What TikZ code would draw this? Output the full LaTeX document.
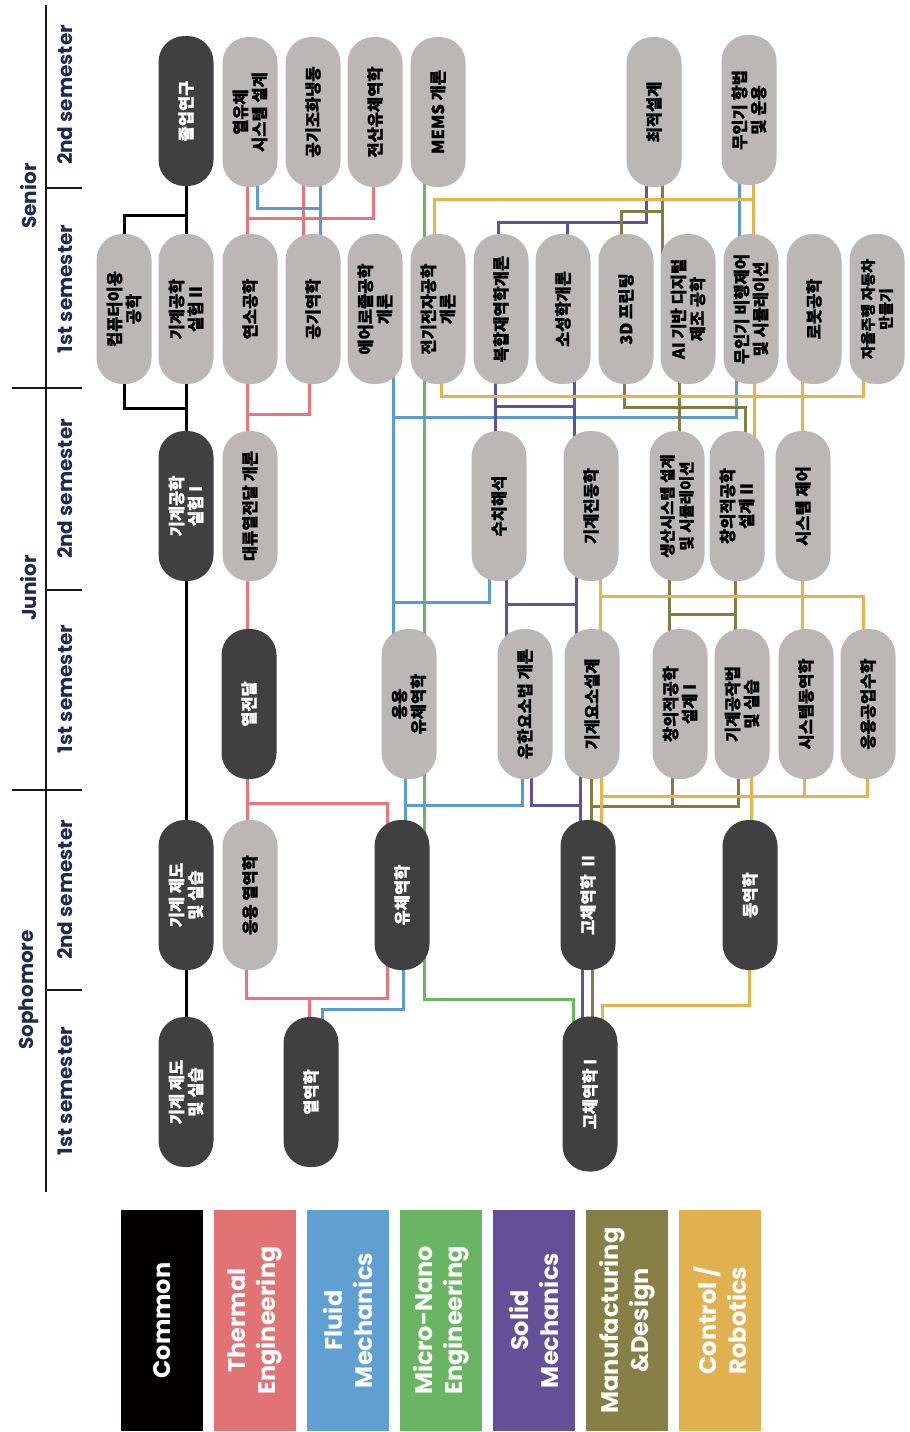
\documentclass[tikz,border=0pt]{standalone}
\usepackage{fontspec}
\newfontfamily\kr{Noto Sans CJK KR}[BoldFeatures={FakeBold=1.2}]
\newfontfamily\pop{Poppins}
\usetikzlibrary{calc,backgrounds}
\definecolor{dkbox}{HTML}{404042}
\definecolor{ltbox}{HTML}{BCB7B5}
\definecolor{cpk}{HTML}{E5767B}
\definecolor{cbl}{HTML}{5B9BD1}
\definecolor{cgn}{HTML}{6BB663}
\definecolor{cpp}{HTML}{61509A}
\definecolor{col}{HTML}{817D44}
\definecolor{cyl}{HTML}{E5B450}
\definecolor{navy}{HTML}{1E2B50}
\definecolor{lgcom}{HTML}{050000}
\definecolor{lgth}{HTML}{E17375}
\definecolor{lgfl}{HTML}{5F9FD1}
\definecolor{lgmn}{HTML}{6AB563}
\definecolor{lgso}{HTML}{654F97}
\definecolor{lgma}{HTML}{878046}
\definecolor{lgco}{HTML}{E2B14F}
\tikzset{
  crs/.style={rectangle, rounded corners=26pt, minimum width=150pt, minimum height=55pt, inner sep=2pt, rotate=90, align=center, font=\kr\bfseries\fontsize{16.5}{19}\selectfont},
  dk/.style={crs, fill=dkbox, text=white},
  lt/.style={crs, fill=ltbox, text=black},
  cn/.style={line width=3pt},
  lbk/.style={cn, draw=black},
  lpk/.style={cn, draw=cpk},
  lbl/.style={cn, draw=cbl},
  lgn/.style={cn, draw=cgn},
  lpp/.style={cn, draw=cpp},
  lol/.style={cn, draw=col},
  lyl/.style={cn, draw=cyl},
  legbox/.style={rectangle, rotate=90, minimum width=221pt, minimum height=82pt, inner sep=0pt, align=center, text=white, font=\pop\bfseries\fontsize{24}{30}\selectfont},
  yearlab/.style={rotate=90, text=navy, font=\pop\bfseries\fontsize{20}{24}\selectfont},
  semlab/.style={rotate=90, text=navy, font=\pop\bfseries\fontsize{20}{24}\selectfont},
  axisln/.style={line width=2pt, draw=black!90}
}
\begin{document}
\begin{tikzpicture}[x=1pt,y=-1pt]
\useasboundingbox (0,0) rectangle (910,1432);

% ---------- axis ----------
\coordinate (axtop) at (46,5);
\coordinate (axbot) at (46,1192);
\draw[axisln] (axtop) -- (axbot);
\draw[axisln] (46,188) -- (82,188);
\draw[axisln] (12,388) -- (82,388);
\draw[axisln] (46,590) -- (82,590);
\draw[axisln] (12,790) -- (82,790);
\draw[axisln] (46,990) -- (82,990);
\node[yearlab] (ysen) at (29,196) {Senior};
\node[yearlab] (yjun) at (29,588) {Junior};
\node[yearlab] (ysop) at (29,990) {Sophomore};
\node[semlab] (s8) at (65,95) {2nd semester};
\node[semlab] (s7) at (65,289) {1st semester};
\node[semlab] (s6) at (65,489) {2nd semester};
\node[semlab] (s5) at (65,689) {1st semester};
\node[semlab] (s4) at (65,890) {2nd semester};
\node[semlab] (s3) at (65,1091) {1st semester};

% ---------- Senior 2nd ----------
\node[dk] (gr) at (186,111) {졸업연구};
\node[lt] (tfs) at (250,112) {열유체\\시스템 설계};
\node[lt] (hvac) at (313,112) {공기조화냉동};
\node[lt] (cfd) at (375,112) {전산유체역학};
\node[lt] (mems) at (438,112) {MEMS 개론};
\node[lt] (opt) at (654,112) {최적설계};
\node[lt] (uavnav) at (749,110) {무인기 항법\\및 운용};
% ---------- Senior 1st ----------
\node[lt] (cmp) at (124,309) {컴퓨터이용\\공학};
\node[lt] (lab2) at (186,309) {기계공학\\실험 II};
\node[lt] (comb) at (250,309) {연소공학};
\node[lt] (aero) at (313,309) {공기역학};
\node[lt] (aerosol) at (375,309) {에어로졸공학\\개론};
\node[lt] (elec) at (438,309) {전기전자공학\\개론};
\node[lt] (compo) at (501,309) {복합재역학개론};
\node[lt] (plast) at (563,309) {소성학개론};
\node[lt] (print) at (626,309) {3D 프린팅};
\node[lt] (ai) at (688,309) {AI 기반 디지털\\제조 공학};
\node[lt] (uavsim) at (751,309) {무인기 비행제어\\및 시뮬레이션};
\node[lt] (robot) at (814,309) {로봇공학};
\node[lt, font=\kr\bfseries\fontsize{15}{18}\selectfont] (auto) at (877,309) {자율주행 자동차\\만들기};
% ---------- Junior 2nd ----------
\node[dk] (lab1) at (186,506) {기계공학\\실험 I};
\node[lt] (conv) at (250,506) {대류열전달 개론};
\node[lt] (num) at (499,506) {수치해석};
\node[lt] (vib) at (591,506) {기계진동학};
\node[lt, font=\kr\bfseries\fontsize{15.5}{19}\selectfont] (prod) at (677,506) {생산시스템 설계\\및 시뮬레이션};
\node[lt] (cd2) at (737,506) {창의적공학\\설계 II};
\node[lt] (ctrl) at (803,506) {시스템 제어};
% ---------- Junior 1st ----------
\node[dk] (ht) at (249,704) {열전달};
\node[lt] (afm) at (409,704) {응용\\유체역학};
\node[lt] (fem) at (525,704) {유한요소법 개론};
\node[lt] (mde) at (592,704) {기계요소설계};
\node[lt] (cd1) at (680,704) {창의적공학\\설계 I};
\node[lt] (mfg) at (742,704) {기계공작법\\및 실습};
\node[lt] (sysdyn) at (806,704) {시스템동역학};
\node[lt] (math) at (868,704) {응용공업수학};
% ---------- Sophomore 2nd ----------
\node[dk] (dr2) at (186,895) {기계 제도\\및 실습};
\node[lt] (ath) at (250,895) {응용 열역학};
\node[dk] (fm) at (402,895) {유체역학};
\node[dk] (sm2) at (588,895) {고체역학 \ II};
\node[dk] (dyn) at (750,895) {동역학};
% ---------- Sophomore 1st ----------
\node[dk] (dr1) at (186,1092) {기계 제도\\및 실습};
\node[dk] (td) at (311,1092) {열역학};
\node[dk, minimum width=155pt] (sm1) at (590,1094) {고체역학 I};

% ---------- legend ----------
\node[legbox, fill=lgcom] (lg1) at (162,1320.5) {Common};
\node[legbox, fill=lgth] (lg2) at (255,1320.5) {Thermal\\Engineering};
\node[legbox, fill=lgfl] (lg3) at (348,1320.5) {Fluid\\Mechanics};
\node[legbox, fill=lgmn] (lg4) at (441,1320.5) {Micro-Nano\\Engineering};
\node[legbox, fill=lgso] (lg5) at (534,1320.5) {Solid\\Mechanics};
\node[legbox, fill=lgma] (lg6) at (627,1320.5) {Manufacturing\\\&Design};
\node[legbox, fill=lgco] (lg7) at (720,1320.5) {Control /\\Robotics};

% ---------- connectors ----------
\begin{scope}[on background layer]
% black
\draw[lbk] (gr) -- (lab2);
\draw[lbk] (gr) |- (124,215) -- (cmp);
\draw[lbk] (lab2) -- (lab1);
\draw[lbk] (cmp) |- (186,408);
\draw[lbk] (lab1) -- (dr2) -- (dr1);
% green
\draw[lgn] ($(mems)+(-14,0)$) |- (573,999) -- ($(sm1)+(-17,0)$);
% pink
\draw[lpk] ($(tfs)+(-3,0)$) -- ($(comb)+(-3,0)$);
\draw[lpk] ($(hvac)+(-10,0)$) -- ($(aero)+(-10,0)$);
\draw[lpk] ($(cfd)+(-2,0)$) |- (247,218);
\draw[lpk] ($(comb)+(-3,0)$) -- ($(conv)+(-3,0)$) -- ($(ht)+(-2,0)$) -- ($(ath)+(-3,0)$);
\draw[lpk] ($(aero)+(-4,0)$) |- (247,414);
\draw[lpk] ($(fm)+(-15,0)$) |- (247,803);
\draw[lpk] ($(ath)+(-4,0)$) |- (387,998) -- ($(fm)+(-15,0)$);
\draw[lpk] ($(td)+(-2,0)$) -- (309,998);
% blue
\draw[lbl] ($(hvac)+(7,0)$) -- ($(aero)+(7,0)$);
\draw[lbl] ($(tfs)+(7,0)$) |- (320,208);
\draw[lbl] ($(aerosol)+(18,0)$) -- ($(afm)+(-16,0)$);
\draw[lbl] ($(uavsim)+(-15,0)$) |- (393,417);
\draw[lbl] ($(num)+(-10,0)$) |- (393,602);
\draw[lbl] ($(uavnav)+(-10,0)$) -- ($(uavsim)+(-12,0)$);
\draw[lbl] ($(afm)+(-4,0)$) -- ($(fm)+(3,0)$);
\draw[lbl] ($(fem)+(-3,0)$) |- (405,805);
\draw[lbl] ($(fm)+(1,0)$) |- (322,1009) -- ($(td)+(11,0)$);
% purple
\draw[lpp] ($(opt)+(-8,0)$) |- (498,222) -- ($(compo)+(-3,0)$);
\draw[lpp] ($(plast)+(4,0)$) -- (567,222);
\draw[lpp] ($(compo)+(-6,0)$) -- ($(num)+(-4,0)$);
\draw[lpp] ($(plast)+(11,0)$) -- ($(vib)+(-17,0)$);
\draw[lpp] ($(num)+(-4,0)$) |- (574,406);
\draw[lpp] ($(num)+(7,0)$) -- ($(fem)+(-19,0)$);
\draw[lpp] ($(vib)+(-15,0)$) -- ($(mde)+(-16,0)$);
\draw[lpp] ($(fem)+(-19,0)$) |- (576,604);
\draw[lpp] ($(fem)+(6,0)$) |- (580,805) -- ($(sm2)+(-8,0)$);
\draw[lpp] ($(mde)+(-12,0)$) -- ($(sm2)+(-8,0)$);
\draw[lpp] ($(sm2)+(-6,0)$) -- ($(sm1)+(-8,0)$);
% olive
\draw[lol] ($(opt)+(8,0)$) -- ($(ai)+(-26,0)$);
\draw[lol] ($(print)+(-5,0)$) |- (662,211);
\draw[lol] ($(print)+(-2,0)$) |- (745,407) -- ($(cd2)+(8,0)$);
\draw[lol] ($(ai)+(-9,0)$) -- ($(prod)+(2,0)$);
\draw[lol] ($(prod)+(-8,0)$) -- ($(cd1)+(-11,0)$);
\draw[lol] ($(cd1)+(-11,0)$) |- (735,614);
\draw[lol] ($(cd2)+(-2,0)$) -- ($(mfg)+(-7,0)$);
\draw[lol] ($(mde)+(-1,0)$) -- ($(sm2)+(3,0)$);
\draw[lol] ($(mfg)+(-4,0)$) |- (591,806);
\draw[lol] ($(cd1)+(-8,0)$) -- (672,806);
\draw[lol] ($(sm2)+(4,0)$) -- ($(sm1)+(2,0)$);
% yellow
\draw[lyl] ($(elec)+(-4,0)$) |- (753,199);
\draw[lyl] ($(uavnav)+(4,0)$) -- ($(uavsim)+(2,0)$);
\draw[lyl] ($(elec)+(3,0)$) |- (863,396) -- ($(auto)+(-14,0)$);
\draw[lyl] ($(uavsim)+(3,0)$) -- ($(cd2)+(17,0)$);
\draw[lyl] ($(robot)+(-12,0)$) -- ($(ctrl)+(-1,0)$);
\draw[lyl] ($(vib)+(9,0)$) -- ($(mde)+(8,0)$);
\draw[lyl] ($(math)+(-5,0)$) |- (600,596);
\draw[lyl] ($(ctrl)+(-1,0)$) -- ($(sysdyn)+(-4,0)$);
\draw[lyl] ($(mde)+(9,0)$) -- ($(sm2)+(13,0)$);
\draw[lyl] ($(math)+(-1,0)$) |- (601,796);
\draw[lyl] ($(sysdyn)+(-2,0)$) -- (804,796);
\draw[lyl] ($(mfg)+(9,0)$) -- ($(dyn)+(1,0)$);
\draw[lyl] ($(dyn)+(-1,0)$) |- (602,1005) -- ($(sm1)+(12,0)$);
\end{scope}
\end{tikzpicture}
\end{document}
